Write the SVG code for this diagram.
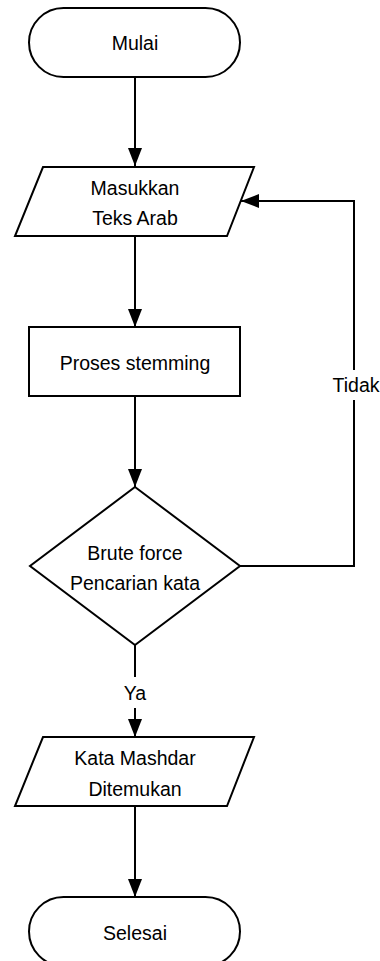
<svg xmlns="http://www.w3.org/2000/svg" width="380" height="961" viewBox="0 0 380 961">
<style>
.s{fill:#fff;stroke:#000;stroke-width:2}
.t{font-family:"Liberation Sans",Arial,sans-serif;font-size:19.5px;fill:#000;text-anchor:middle;dominant-baseline:central}
.c{fill:none;stroke:#000;stroke-width:2}
</style>
<defs>
<marker id="ah" markerUnits="userSpaceOnUse" markerWidth="20" markerHeight="16" refX="18" refY="7" orient="auto">
<path d="M0,0 L18,7 L0,14 Z" fill="#000"/>
</marker>
</defs>
<rect width="380" height="961" fill="#fff"/>
<g id="connectors">
<line class="c" x1="135" y1="77" x2="135" y2="166" marker-end="url(#ah)"/>
<line class="c" x1="135" y1="236" x2="135" y2="327" marker-end="url(#ah)"/>
<line class="c" x1="135" y1="396" x2="135" y2="487" marker-end="url(#ah)"/>
<polyline class="c" points="240,566 354,566 354,400"/>
<polyline class="c" points="354,370 354,201 241,201" marker-end="url(#ah)"/>
<text class="t" x="356" y="385">Tidak</text>
<line class="c" x1="135" y1="645" x2="135" y2="677"/>
<line class="c" x1="135" y1="708" x2="135" y2="737" marker-end="url(#ah)"/>
<text class="t" x="135" y="693">Ya</text>
<line class="c" x1="135" y1="806" x2="135" y2="897" marker-end="url(#ah)"/>
</g>
<g id="mulai">
<rect class="s" x="29" y="8" width="211" height="69" rx="34.5"/>
<text class="t" x="135" y="43">Mulai</text>
</g>
<g id="masukkan">
<polygon class="s" points="43,167 254,167 227,236 15,236"/>
<text class="t" x="135" y="188">Masukkan</text>
<text class="t" x="135" y="218">Teks Arab</text>
</g>
<g id="proses">
<rect class="s" x="29" y="327" width="211" height="69"/>
<text class="t" x="135" y="363">Proses stemming</text>
</g>
<g id="brute">
<polygon class="s" points="135,487 240,566 135,645 30,566"/>
<text class="t" x="135" y="553">Brute force</text>
<text class="t" x="135" y="583">Pencarian kata</text>
</g>
<g id="kata">
<polygon class="s" points="43,737 254,737 227,806 15,806"/>
<text class="t" x="135" y="758">Kata Mashdar</text>
<text class="t" x="135" y="789">Ditemukan</text>
</g>
<g id="selesai">
<rect class="s" x="29" y="897" width="211" height="69" rx="34.5"/>
<text class="t" x="135" y="933">Selesai</text>
</g>
</svg>
